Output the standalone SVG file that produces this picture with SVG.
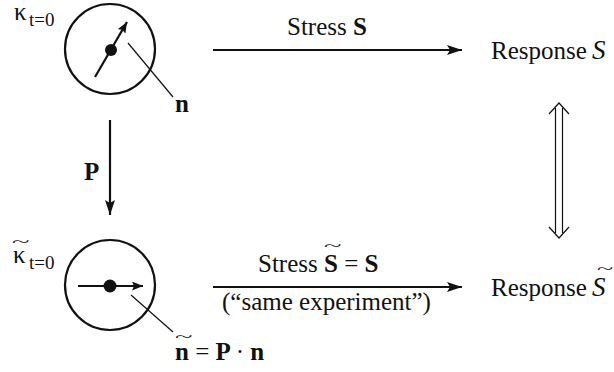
<svg xmlns="http://www.w3.org/2000/svg" width="614" height="372" viewBox="0 0 614 372">
<style>
text{font-family:"Liberation Serif","Times New Roman",serif;fill:#111;}
.t{font-size:25px;}
.sub{font-size:19px;}
.b{font-weight:bold;}
.i{font-style:italic;}
.ln{stroke:#111;stroke-width:2.2;fill:none;}
.thin{stroke:#111;stroke-width:1.2;fill:none;}
.circ{stroke:#111;stroke-width:2.2;fill:none;}
</style>
<defs>
<marker id="ah" markerWidth="16" markerHeight="10" refX="15" refY="5" orient="auto" markerUnits="userSpaceOnUse">
<path d="M0,0 L15,5 L0,10 L3,5 Z" fill="#111"/>
</marker>
<marker id="ahs" markerWidth="12" markerHeight="9" refX="11" refY="4.5" orient="auto" markerUnits="userSpaceOnUse">
<path d="M0,0 L11,4.5 L0,9 L2,4.5 Z" fill="#111"/>
</marker>
</defs>

<g id="config-top">
<text class="t" x="14" y="20">κ</text>
<text class="sub" x="29" y="26">t=0</text>
<circle class="circ" cx="110" cy="49" r="45"/>
<line class="ln" x1="95" y1="77" x2="127" y2="22" marker-end="url(#ahs)"/>
<circle cx="111" cy="50" r="6" fill="#111"/>
<line class="thin" x1="128" y1="43" x2="173" y2="97"/>
<text class="t b" x="175" y="112">n</text>
</g>

<g id="config-bottom">
<text class="t" x="13" y="263">κ</text>
<text class="t" transform="translate(12,247) scale(1.3,0.55)" x="0" y="0">~</text>
<text class="sub" x="29" y="269">t=0</text>
<circle class="circ" cx="110" cy="285" r="45"/>
<line class="ln" x1="78" y1="286" x2="143" y2="286" marker-end="url(#ahs)"/>
<circle cx="110" cy="286" r="6.5" fill="#111"/>
<line class="thin" x1="131" y1="295" x2="173" y2="332"/>
<text class="t b" x="175" y="360">n <tspan font-weight="normal">=</tspan> P <tspan font-weight="normal">·</tspan> n</text>
<text class="t" transform="translate(175,342) scale(1.3,0.55)" x="0" y="0">~</text>
</g>

<g id="response-top">
<text class="t" x="491" y="59">Response<tspan class="i" x="592" font-size="27">S</tspan></text>
</g>

<g id="response-bottom">
<text class="t" x="491" y="296">Response<tspan class="i" x="592" font-size="27">S</tspan></text>
<text class="t" transform="translate(597,274) scale(1.2,0.55)" x="0" y="0">~</text>
</g>

<g id="connectors">
<line class="ln" x1="213" y1="50" x2="462" y2="50" marker-end="url(#ah)"/>
<text class="t" x="287" y="35">Stress <tspan class="b">S</tspan></text>
<line class="ln" x1="110" y1="120" x2="110" y2="215" marker-end="url(#ah)"/>
<text class="t b" x="84" y="180">P</text>
<line class="ln" x1="213" y1="287" x2="462" y2="287" marker-end="url(#ah)"/>
<text class="t" x="258" y="272">Stress <tspan class="b">S</tspan> = <tspan class="b">S</tspan></text>
<text class="t" transform="translate(324,251) scale(1.3,0.55)" x="0" y="0">~</text>
<text class="t" x="222" y="310">(“same experiment”)</text>
<g id="equiv">
<line class="thin" x1="555.5" y1="108" x2="555.5" y2="233"/>
<line class="thin" x1="562.5" y1="108" x2="562.5" y2="233"/>
<polyline class="thin" points="549,114 559,103 569,114"/>
<polyline class="thin" points="549,227 559,238 569,227"/>
</g>
</g>
</svg>
